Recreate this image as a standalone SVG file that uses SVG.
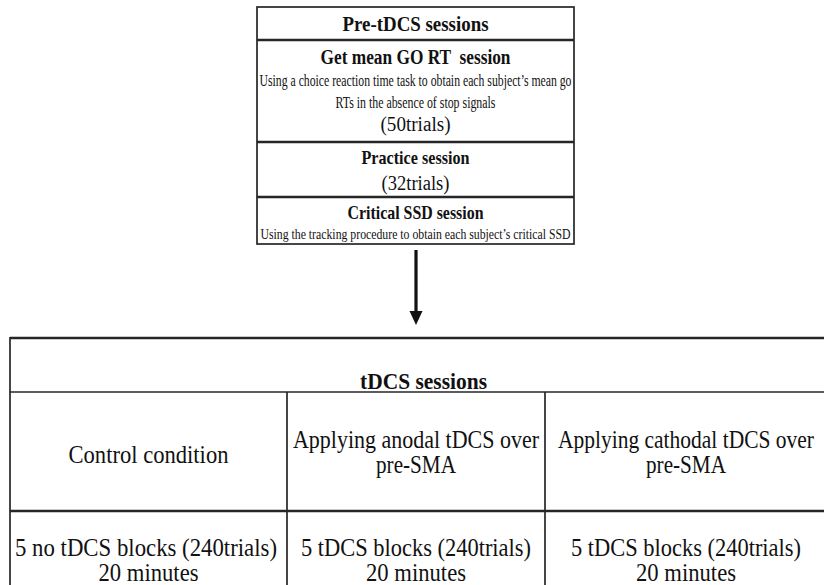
<svg xmlns="http://www.w3.org/2000/svg" width="824" height="585" viewBox="0 0 824 585">
<style>
.ln{stroke:#262626;stroke-width:1.7;fill:none}
.tk{stroke:#262626;stroke-width:2.4;fill:none}
text{font-family:"Liberation Serif","Times New Roman",serif;fill:#111;text-anchor:middle}
.b{font-weight:bold}
.bt{font-size:24.5px}
</style>
<rect width="824" height="585" fill="#fff"/>
<g id="pre-tdcs">
<rect class="ln" x="257" y="7" width="317" height="237"/>
<line class="tk" x1="257" y1="40" x2="574" y2="40"/>
<line class="tk" x1="257" y1="142" x2="574" y2="142"/>
<line class="tk" x1="257" y1="197" x2="574" y2="197"/>
<text class="b" x="415.5" y="31" font-size="20" textLength="146" lengthAdjust="spacingAndGlyphs">Pre-tDCS sessions</text>
<text class="b" x="415.5" y="64" font-size="20.5" textLength="190" lengthAdjust="spacingAndGlyphs" xml:space="preserve">Get mean GO RT  session</text>
<text x="415.5" y="86" font-size="16" textLength="312" lengthAdjust="spacingAndGlyphs">Using a choice reaction time task to obtain each subject’s mean go</text>
<text x="415.5" y="108" font-size="16" textLength="160" lengthAdjust="spacingAndGlyphs">RTs in the absence of stop signals</text>
<text x="415.5" y="131" font-size="20" textLength="70" lengthAdjust="spacingAndGlyphs">(50trials)</text>
<text class="b" x="415.5" y="164" font-size="19.5" textLength="108" lengthAdjust="spacingAndGlyphs">Practice session</text>
<text x="415.5" y="190" font-size="20" textLength="68" lengthAdjust="spacingAndGlyphs">(32trials)</text>
<text class="b" x="415.5" y="219" font-size="19.5" textLength="136" lengthAdjust="spacingAndGlyphs">Critical SSD session</text>
<text x="415.5" y="238.5" font-size="15.5" textLength="310" lengthAdjust="spacingAndGlyphs">Using the tracking procedure to obtain each subject’s critical SSD</text>
</g>
<g id="connectors">
<line x1="416" y1="250" x2="416" y2="314" stroke="#111" stroke-width="3.2"/>
<polygon points="409.5,311 422.5,311 416,325" fill="#111"/>
</g>
<g id="tdcs">
<line class="tk" x1="10" y1="338" x2="824" y2="338"/>
<line class="ln" x1="10" y1="337" x2="10" y2="585"/>
<line class="ln" x1="10" y1="392" x2="824" y2="392"/>
<line class="ln" x1="287" y1="392" x2="287" y2="585"/>
<line class="ln" x1="545" y1="392" x2="545" y2="585"/>
<line class="tk" x1="10" y1="511" x2="824" y2="511"/>
<text class="b" x="423.5" y="389" font-size="23" textLength="127" lengthAdjust="spacingAndGlyphs">tDCS sessions</text>
<text class="bt" x="148.5" y="463" textLength="160" lengthAdjust="spacingAndGlyphs">Control condition</text>
<text class="bt" x="416" y="448" textLength="246" lengthAdjust="spacingAndGlyphs">Applying anodal tDCS over</text>
<text class="bt" x="416" y="473" textLength="80" lengthAdjust="spacingAndGlyphs">pre-SMA</text>
<text class="bt" x="686" y="448" textLength="256" lengthAdjust="spacingAndGlyphs">Applying cathodal tDCS over</text>
<text class="bt" x="686" y="473" textLength="80" lengthAdjust="spacingAndGlyphs">pre-SMA</text>
<text class="bt" x="146" y="556" textLength="262" lengthAdjust="spacingAndGlyphs">5 no tDCS blocks (240trials)</text>
<text class="bt" x="148.5" y="581" textLength="100" lengthAdjust="spacingAndGlyphs">20 minutes</text>
<text class="bt" x="416" y="556" textLength="230" lengthAdjust="spacingAndGlyphs">5 tDCS blocks (240trials)</text>
<text class="bt" x="416" y="581" textLength="100" lengthAdjust="spacingAndGlyphs">20 minutes</text>
<text class="bt" x="686" y="556" textLength="230" lengthAdjust="spacingAndGlyphs">5 tDCS blocks (240trials)</text>
<text class="bt" x="686" y="581" textLength="100" lengthAdjust="spacingAndGlyphs">20 minutes</text>
</g>
</svg>
